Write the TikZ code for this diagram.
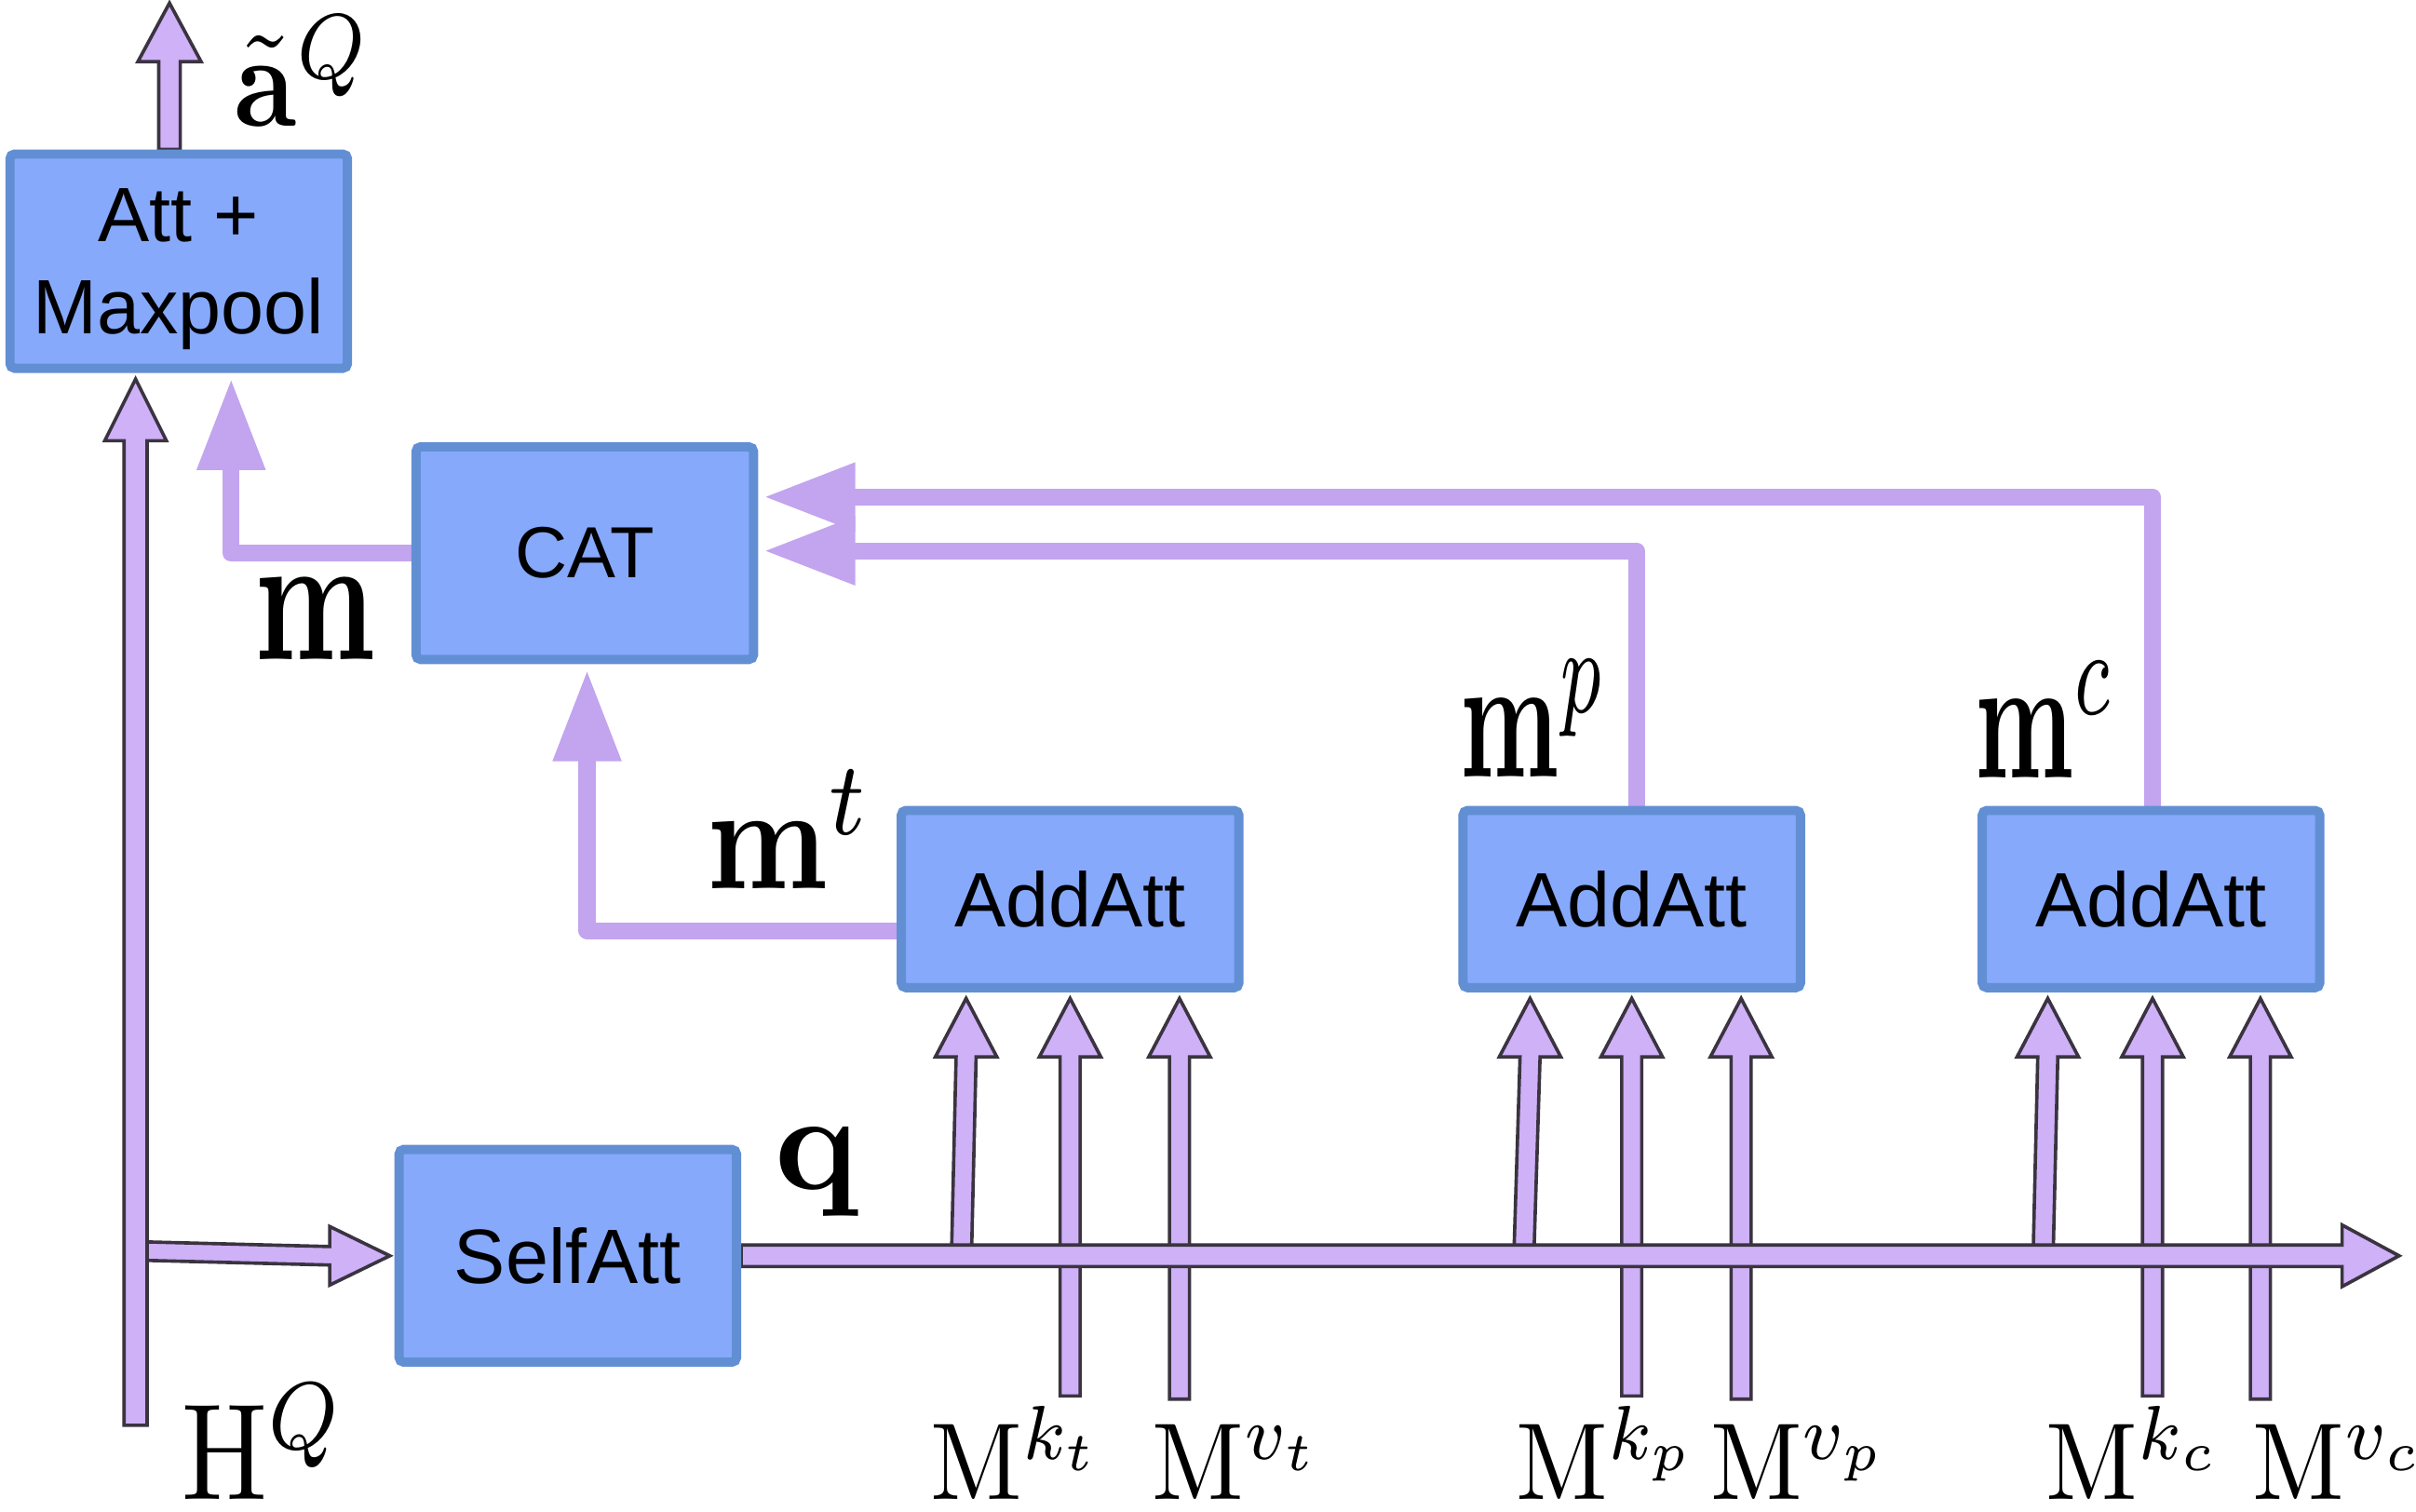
\documentclass[tikz,border=0pt]{standalone}
\usepackage[no-math]{fontspec}
\usepackage{graphicx}
\newfontfamily\boxfont{Liberation Sans}
\usetikzlibrary{arrows.meta,calc}
\pgfdeclarelayer{bg}
\pgfsetlayers{bg,main}
\definecolor{boxfill}{RGB}{134,169,252}
\definecolor{boxline}{RGB}{98,143,212}
\definecolor{mpurple}{RGB}{194,164,239}
\definecolor{bfill}{RGB}{207,177,248}
\definecolor{bline}{RGB}{58,52,64}
\newcommand{\UpBlock}[5]{%
  \draw[barrow] let \p1=(#1), \p2=(#2) in
    (\x1-#3,\y1) -- (\x2-#3,\y2-#5) -- (\x2-#4,\y2-#5) -- (\x2,\y2)
    -- (\x2+#4,\y2-#5) -- (\x2+#3,\y2-#5) -- (\x1+#3,\y1) -- cycle;}
\newcommand{\RightBlock}[5]{%
  \draw[barrow] let \p1=(#1), \p2=(#2) in
    (\x1,\y1+#3) -- (\x2-#5,\y2+#3) -- (\x2-#5,\y2+#4) -- (\x2,\y2)
    -- (\x2-#5,\y2-#4) -- (\x2-#5,\y2-#3) -- (\x1,\y1-#3) -- cycle;}
\newcommand{\nodepth}[1]{\raisebox{0pt}[\height][0pt]{#1}}
\tikzset{
  blk/.style={draw=boxline, fill=boxfill, line width=6pt, rounded corners=3pt,
    minimum width=219pt, inner sep=0pt, align=center,
    font=\boxfont\fontsize{50}{58}\selectfont},
  barrow/.style={fill=bfill, draw=bline, line width=2.2pt, line join=miter},
  mline/.style={draw=mpurple, line width=11pt, line join=round, line cap=round,
    -{Triangle[length=58pt,width=45pt,line width=0pt]}},
  lbl/.style={anchor=base west, inner sep=0pt, outer sep=0pt}
}
\begin{document}
\begin{tikzpicture}[x=1pt,y=-1pt]
\useasboundingbox (0,0) rectangle (1568,981);
% boxes
\node[blk, minimum height=139pt, text depth=0pt, font=\boxfont\fontsize{50}{60}\selectfont] (amp) at (116,169.5) {Att +\\Maxpool};
\node[blk, minimum height=138pt, font=\boxfont\fontsize{47}{56}\selectfont] (cat) at (379.5,359) {CAT};
\node[blk, minimum height=115pt] (add1) at (694.5,583.5) {AddAtt};
\node[blk, minimum height=115pt] (add2) at (1059,583.5) {AddAtt};
\node[blk, minimum height=115pt] (add3) at (1396,583.5) {AddAtt};
\node[blk, minimum height=138pt] (self) at (368.5,815) {SelfAtt};
% free ends
\coordinate (outtip) at (110,2);
\coordinate (hqfoot) at (88,925);
\coordinate (hqbranch) at (95.5,812);
\coordinate (qend) at (1557,815);
\coordinate (q1) at (624,815);
\coordinate (kt) at (694.5,906);
\coordinate (vt) at (765.5,908);
\coordinate (q2) at (989,815);
\coordinate (kp) at (1059,906);
\coordinate (vp) at (1130,908);
\coordinate (q3) at (1326,815);
\coordinate (kc) at (1397,906);
\coordinate (vc) at (1467,908);
\begin{pgfonlayer}{bg}
  \UpBlock{$(amp.north)+(-6,0)$}{outtip}{7pt}{20.5pt}{38pt}
  \UpBlock{hqfoot}{$(amp.south)+(-28,4)$}{7.5pt}{20pt}{40pt}
  \RightBlock{hqbranch}{$(self.west)+(-3,0)$}{6pt}{19pt}{39pt}
  \UpBlock{q1}{$(add1.south)+(-67.5,4)$}{6.5pt}{20pt}{38pt}
  \UpBlock{kt}{$(add1.south)+(0,4)$}{6.5pt}{20pt}{38pt}
  \UpBlock{vt}{$(add1.south)+(71,4)$}{6.5pt}{20pt}{38pt}
  \UpBlock{q2}{$(add2.south)+(-66,4)$}{6.5pt}{20pt}{38pt}
  \UpBlock{kp}{$(add2.south)+(0,4)$}{6.5pt}{20pt}{38pt}
  \UpBlock{vp}{$(add2.south)+(71,4)$}{6.5pt}{20pt}{38pt}
  \UpBlock{q3}{$(add3.south)+(-67,4)$}{6.5pt}{20pt}{38pt}
  \UpBlock{kc}{$(add3.south)+(1,4)$}{6.5pt}{20pt}{38pt}
  \UpBlock{vc}{$(add3.south)+(71,4)$}{6.5pt}{20pt}{38pt}
  \RightBlock{self.east}{qend}{7pt}{20pt}{37pt}
  \draw[mline] (cat.west) -| ($(amp.south)+(34,5)$);
  \draw[mline] ($(add1.west)+(0,20.5)$) -| ($(cat.south)+(1.5,5)$);
  \draw[mline] ($(add2.north)+(3,0)$) |- ($(cat.east)+(5,-1.5)$);
  \draw[mline] ($(add3.north)+(1,0)$) |- ($(cat.east)+(5,-36.5)$);
\end{pgfonlayer}
% labels
\node[lbl] (laQ) at (152,82) {\scalebox{7.2}[8.6]{$\tilde{\mathbf{a}}^{Q}$}};
\node[lbl] (lm) at (165,428) {\scalebox{8.2}[11.9]{$\mathbf{m}$}};
\node[lbl] (lmt) at (459,577) {\scalebox{8.2}[9.7]{$\mathbf{m}^{t}$}};
\node[lbl] (lmp) at (948,504) {\scalebox{6.7}[11.4]{$\mathbf{m}^{p}$}};
\node[lbl] (lmc) at (1282,505) {\scalebox{6.7}[11.4]{$\mathbf{m}^{c}$}};
\node[lbl] (lq) at (503,772) {\scalebox{9}{$\mathbf{q}$}};
\node[lbl] (lH) at (118,973) {\nodepth{\scalebox{7.4}[8.9]{$\mathrm{H}^{Q}$}}};
\node[lbl] (lMkt) at (604,973) {\nodepth{\scalebox{6.5}[7.1]{$\mathrm{M}^{k_t}$}}};
\node[lbl] (lMvt) at (748,973) {\nodepth{\scalebox{6.5}[7.1]{$\mathrm{M}^{v_t}$}}};
\node[lbl] (lMkp) at (984,973) {\nodepth{\scalebox{6.5}[7.1]{$\mathrm{M}^{k_p}$}}};
\node[lbl] (lMvp) at (1110,973) {\nodepth{\scalebox{6.5}[7.1]{$\mathrm{M}^{v_p}$}}};
\node[lbl] (lMkc) at (1328,973) {\nodepth{\scalebox{6.5}[7.1]{$\mathrm{M}^{k_c}$}}};
\node[lbl] (lMvc) at (1462,973) {\nodepth{\scalebox{6.5}[7.1]{$\mathrm{M}^{v_c}$}}};
\end{tikzpicture}
\end{document}
